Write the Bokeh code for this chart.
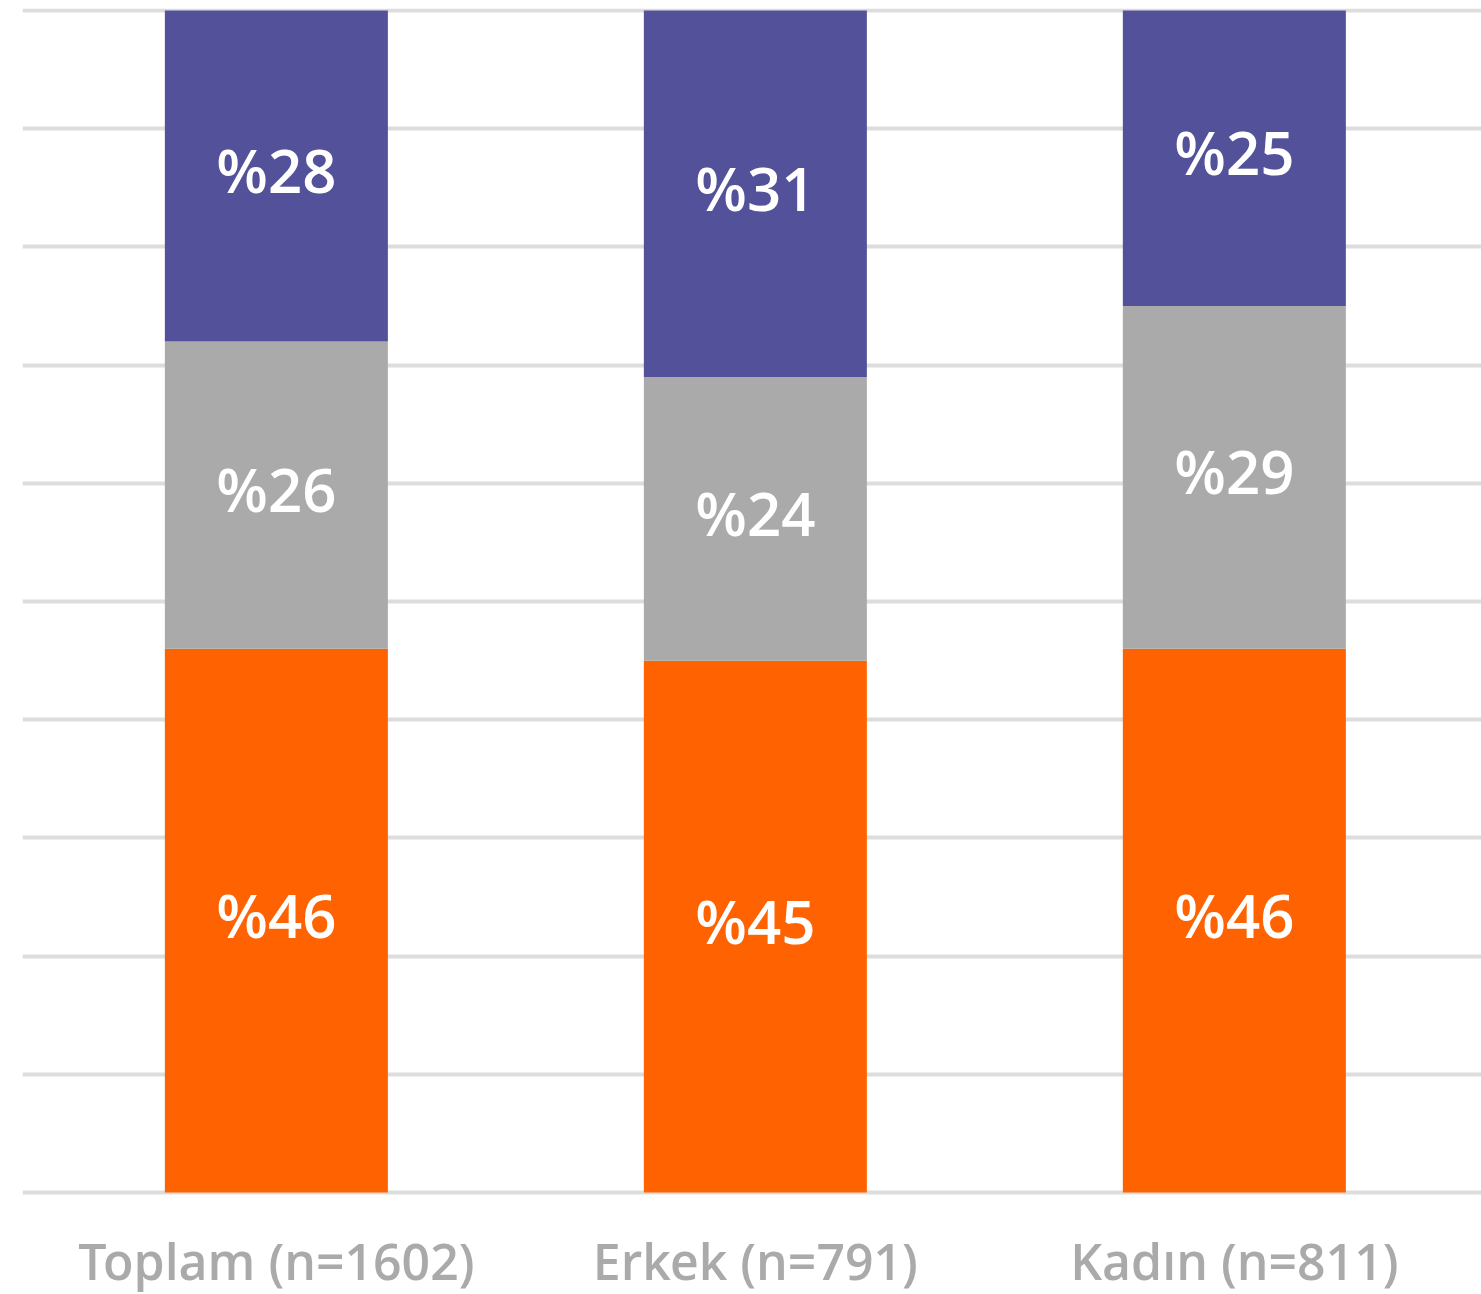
from bokeh.plotting import figure
from bokeh.models import ColumnDataSource, Range1d, FixedTicker, Grid
from bokeh.core.properties import value
from bokeh.embed import file_html
from bokeh.resources import INLINE

categories = ["Toplam (n=1602)", "Erkek (n=791)", "Kadın (n=811)"]
series_names = ["s1", "s2", "s3"]
s1 = [46, 45, 46]   # orange (bottom)
s2 = [26, 24, 29]   # gray (middle)
s3 = [28, 31, 25]   # purple (top)
colors = ["#FF6200", "#AAAAAA", "#525199"]

xs = [0.5, 1.5, 2.5]

src = ColumnDataSource(data=dict(x=xs, s1=s1, s2=s2, s3=s3))

p = figure(frame_width=1459, frame_height=1187, x_range=Range1d(-0.030, 3.016),
           y_range=Range1d(-0.25, 100.17), output_backend="svg", toolbar_location=None,
           min_border_left=22, min_border_right=0, min_border_top=8, min_border_bottom=0,
           y_axis_location=None)
p.outline_line_color = None
p.background_fill_color = "white"
p.border_fill_color = "white"

p.xgrid.visible = False
for g in p.ygrid:
    g.visible = False
p.add_layout(Grid(dimension=1, ticker=FixedTicker(ticks=list(range(0, 101, 10))),
                  grid_line_color="#DDDDDD", grid_line_width=4))

p.vbar_stack(series_names, x="x", width=0.4656, color=colors, source=src, line_color=None)

# labels
lx, ly, lt = [], [], []
for i in range(3):
    bottom = 0
    for vals in (s1, s2, s3):
        v = vals[i]
        lx.append(xs[i])
        ly.append(bottom + v / 2)
        lt.append("%" + str(v))
        bottom += v
p.text(x=lx, y=ly, text=lt, text_color="white", text_align="center", text_baseline="middle",
       text_font=value("Open Sans SemiBold"), text_font_size="60px", text_font_style="normal",
       y_offset=-6)

ax = p.xaxis[0]
ax.ticker = FixedTicker(ticks=xs)
ax.major_label_overrides = {xs[i]: categories[i] for i in range(3)}
ax.axis_line_color = None
ax.major_tick_line_color = None
ax.minor_tick_line_color = None
ax.major_label_text_color = "#AAAAAA"
ax.major_label_text_font = "Open Sans SemiBold"
ax.major_label_text_font_size = "50px"
ax.major_label_text_font_style = "normal"
ax.major_label_standoff = 25

open("out.html", "w").write(file_html(p, INLINE))
